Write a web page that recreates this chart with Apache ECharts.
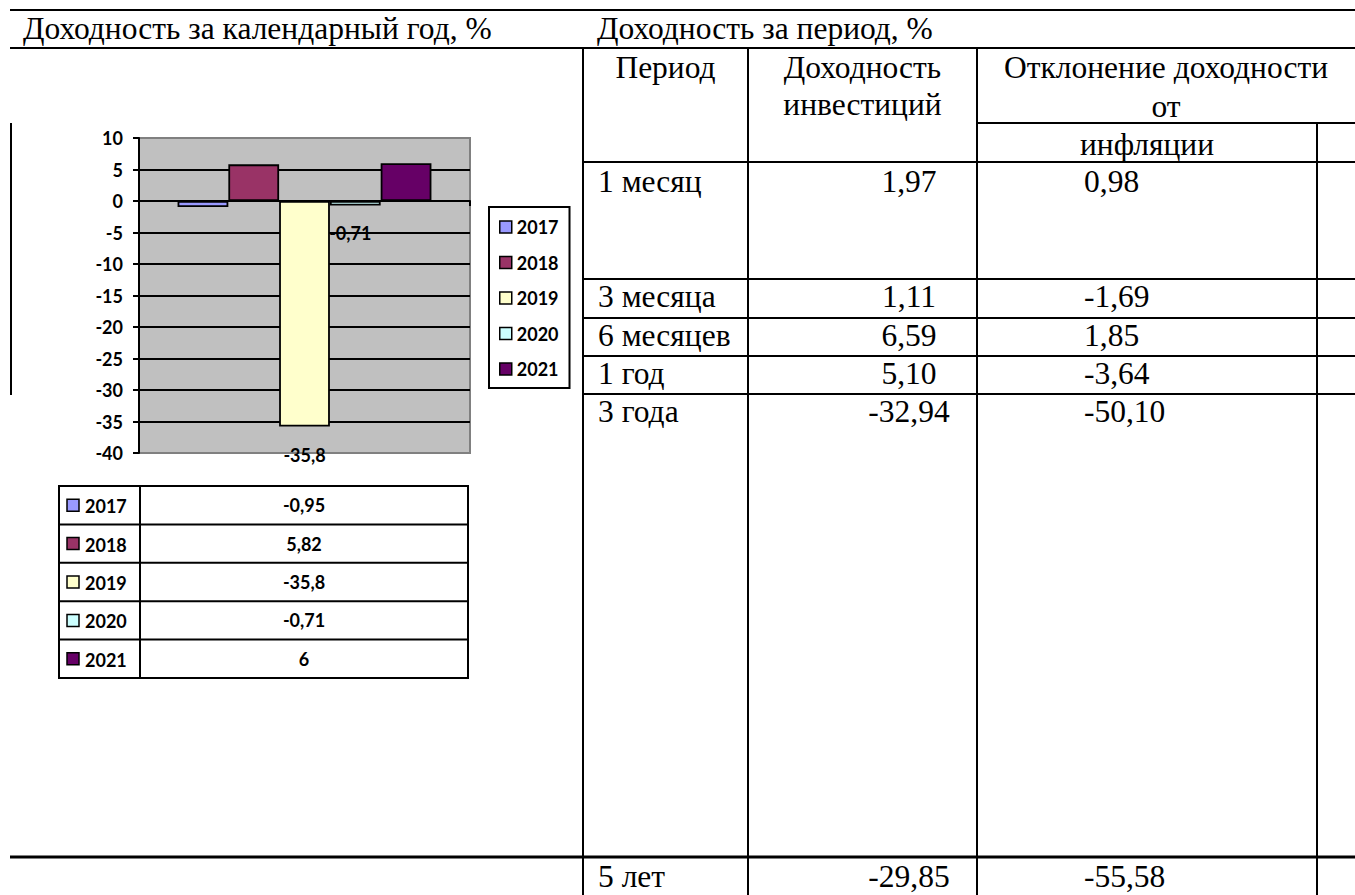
<!DOCTYPE html>
<html>
<head>
<meta charset="utf-8">
<script src="https://cdn.jsdelivr.net/npm/echarts@6.0.0/dist/echarts.min.js"></script>
<style>
html,body{margin:0;padding:0;background:#fff;}
#main{width:1355px;height:895px;}
</style>
</head>
<body>
<div id="main"></div>
<script>
// ---- data ----
const years = ['2017', '2018', '2019', '2020', '2021'];
const annualReturns = [-0.95, 5.82, -35.8, -0.71, 6];
const labelShown = [false, false, true, true, false];
const yMin = -40, yMax = 10, yStep = 5;

const periods = ['1 месяц', '3 месяца', '6 месяцев', '1 год', '3 года', '5 лет'];
const periodReturns = [1.97, 1.11, 6.59, 5.10, -32.94, -29.85];
const inflationDeviation = [0.98, -1.69, 1.85, -3.64, -50.10, -55.58];

const leftTitle = 'Доходность за календарный год, %';
const rightTitle = 'Доходность за период, %';
const headPeriod = 'Период';
const headReturn = ['Доходность', 'инвестиций'];
const headDev = ['Отклонение доходности', 'от', 'инфляции'];

// ---- styles / layout ----
const palette = ['#9999FF', '#993366', '#FFFFCC', '#CCFFFF', '#660066'];
const labelShift = [0, 0, 0, -5, 0];
const serif = '"Liberation Serif", "Times New Roman", serif';
const sans = 'Lato, "Open Sans", sans-serif';
const docFont = '31.5px ' + serif;
const chartFont = 'bold 18px ' + sans;

const fmtPlain = v => String(v).replace('.', ',');
const fmt2 = v => v.toFixed(2).replace('.', ',');

const chart = echarts.init(document.getElementById('main'), null, {renderer: 'svg'});

const g = [];
function line(x1, y1, x2, y2, w) {
  g.push({type: 'line', silent: true, shape: {x1, y1, x2, y2}, style: {stroke: '#000', lineWidth: w || 2}});
}
function text(t, x, y, align, font) {
  g.push({type: 'text', silent: true, x: x, y: y,
    style: {text: t, font: font || docFont, fill: '#000', align: align || 'left', verticalAlign: 'middle'}});
}

// page frame lines
line(10, 10, 1355, 10, 2);
line(10, 48, 1355, 48, 2);
line(10, 857, 1355, 857, 3);
line(11, 123, 11, 395, 2);

// right table
const cx = [583, 748, 977, 1317];
line(cx[0], 48, cx[0], 895);
line(cx[1], 48, cx[1], 895);
line(cx[2], 48, cx[2], 895);
line(cx[3], 123, cx[3], 895);
line(cx[2], 123, 1355, 123);
const rowTops = [162, 279, 318, 356, 394, 857];
rowTops.forEach((y, i) => { if (i < 5) line(cx[0], y, 1355, y); });

text(leftTitle, 23, 28);
text(rightTitle, 597, 28);
text(headPeriod, (cx[0] + cx[1]) / 2, 67, 'center');
text(headReturn[0], (cx[1] + cx[2]) / 2, 67, 'center');
text(headReturn[1], (cx[1] + cx[2]) / 2, 104, 'center');
text(headDev[0], (cx[2] + 1355) / 2, 67, 'center');
text(headDev[1], (cx[2] + 1355) / 2, 106, 'center');
text(headDev[2], (cx[2] + cx[3]) / 2, 144, 'center');

const rowOffsets = [19, 17, 17, 17, 17, 19];
periods.forEach((p, i) => {
  const yb = rowTops[i] + rowOffsets[i];
  text(p, 598, yb);
  text(fmt2(periodReturns[i]), 909, yb, 'center');
  text(fmt2(inflationDeviation[i]), 1084, yb);
});

// chart data table
const tL = 59, tM = 140, tR = 468, tT = 486, rowH = 38.4;
g.push({type: 'rect', silent: true, shape: {x: tL, y: tT, width: tR - tL, height: rowH * years.length},
  style: {fill: '#fff', stroke: '#000', lineWidth: 2}});
line(tM, tT, tM, tT + rowH * years.length);
years.forEach((yr, i) => {
  const yc = tT + rowH * i + rowH / 2;
  if (i > 0) line(tL, tT + rowH * i, tR, tT + rowH * i);
  g.push({type: 'rect', silent: true, shape: {x: 67, y: yc - 6, width: 12, height: 12},
    style: {fill: palette[i], stroke: '#000', lineWidth: 1.5}});
  text(yr, 85, yc + 1, 'left', chartFont);
  text(fmtPlain(annualReturns[i]), (tM + tR) / 2, yc, 'center', chartFont);
});

const series = years.map((yr, i) => ({
  name: yr,
  type: 'bar',
  data: [annualReturns[i]],
  barGap: '0%',
  barCategoryGap: '23.3%',
  itemStyle: {color: palette[i], borderColor: '#000', borderWidth: 1.8},
  label: {
    show: labelShown[i], position: 'bottom', distance: 19, offset: [labelShift[i], 0],
    formatter: p => fmtPlain(p.value),
    fontFamily: sans, fontWeight: 'bold', fontSize: 18, color: '#000'
  },
  emphasis: {disabled: true},
  animation: false
}));

chart.setOption({
  animation: false,
  backgroundColor: '#fff',
  grid: {
    left: 139, top: 138, right: 885, bottom: 442,
    show: true, backgroundColor: '#C0C0C0', borderColor: '#808080', borderWidth: 2
  },
  xAxis: {
    type: 'category', data: [''],
    axisLine: {show: true, onZero: true, lineStyle: {color: '#000', width: 2}},
    axisTick: {show: true, length: 5, lineStyle: {color: '#000', width: 2}},
    axisLabel: {show: false},
    splitLine: {show: false}
  },
  yAxis: {
    type: 'value', min: yMin, max: yMax, interval: yStep,
    axisLine: {show: true, lineStyle: {color: '#000', width: 2}},
    axisTick: {show: true, length: 6, lineStyle: {color: '#000', width: 2}},
    axisLabel: {margin: 16, fontFamily: sans, fontWeight: 'bold', fontSize: 18, color: '#000'},
    splitLine: {show: true, showMinLine: false, showMaxLine: false, lineStyle: {color: '#000', width: 2}}
  },
  legend: {
    orient: 'vertical', left: 489, top: 207,
    data: years,
    icon: 'rect', itemWidth: 12, itemHeight: 12, itemGap: 17.5,
    padding: [11, 11, 10, 10],
    backgroundColor: '#fff', borderColor: '#000', borderWidth: 2, borderRadius: 0,
    itemStyle: {borderColor: '#000', borderWidth: 1.5},
    textStyle: {fontFamily: sans, fontWeight: 'bold', fontSize: 18, color: '#000'},
    selectedMode: false
  },
  series: series,
  graphic: g
});
</script>
</body>
</html>
